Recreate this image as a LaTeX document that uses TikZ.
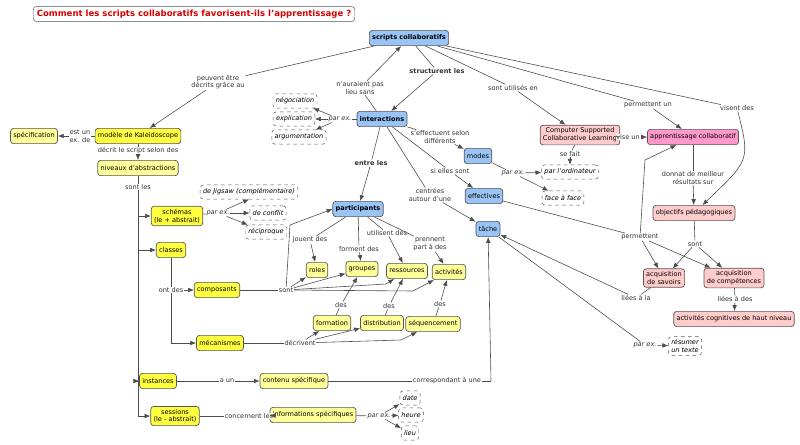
\documentclass[tikz,border=0pt]{standalone}
\usepackage{fontspec}
\setmainfont{DejaVu Sans}
\usetikzlibrary{arrows.meta}
\definecolor{cb}{HTML}{99C4F5}
\definecolor{cy}{HTML}{FFFF40}
\definecolor{cly}{HTML}{FFFF99}
\definecolor{cp}{HTML}{FFCCCC}
\definecolor{cdp}{HTML}{FF99CC}
\definecolor{bd}{HTML}{555555}
\newcommand{\fs}{\fontsize{5.6}{6.6}\selectfont}
\begin{document}
\begin{tikzpicture}[x=0.03cm,y=-0.03cm,
 every node/.style={font=\fs},
 box/.style={draw=bd,rounded corners=2.5pt,line width=0.6pt,inner sep=2.4pt,align=center,minimum height=13pt},
 B/.style={box,fill=cb,font=\fs\bfseries},
 Y/.style={box,fill=cy},
 LY/.style={box,fill=cly},
 P/.style={box,fill=cp},
 DP/.style={box,fill=cdp},
 D/.style={draw=bd,dashed,rounded corners=2.5pt,inner sep=2.4pt,align=center,minimum height=12pt,font=\fs\itshape},
 L/.style={fill=white,inner sep=0.6pt,align=center,text=black!80},
 LI/.style={L,font=\fs\itshape},
 LB/.style={L,font=\fs\bfseries},
 e/.style={draw=black!70,line width=0.5pt},
 a/.style={e,-{Latex[length=5pt,width=4pt]}}]
\useasboundingbox (0,0) rectangle (800,445);
% title
\node[draw=bd,rounded corners=3pt,inner sep=3pt,text=red!85!black,font=\fontsize{7.3}{8.5}\selectfont\bfseries] (title) at (194,14) {Comment les scripts collaboratifs favorisent-ils l'apprentissage ?};
% main nodes
\node[B] (sc) at (409,38) {scripts collaboratifs};
\node[B] (int) at (382,119) {interactions};
\node[B] (par) at (358,209) {participants};
\node[B,font=\fs] (mod) at (478,156) {modes};
\node[B,font=\fs] (eff) at (484,196) {effectives};
\node[B,font=\fs] (tac) at (488,229) {tâche};
\node[P] (cscl) at (580,135) {Computer Supported\\Collaborative Learning};
\node[DP] (app) at (693,137) {apprentissage collaboratif};
\node[P] (obj) at (694,213) {objectifs pédagogiques};
\node[P] (sav) at (664,278) {acquisition\\de savoirs};
\node[P] (comp) at (734,278) {acquisition\\de compétences};
\node[P] (acog) at (734,319) {activités cognitives de haut niveau};
\node[D] (res) at (685,346) {résumer\\un texte};
\node[D] (ordi) at (570,172) {par l'ordinateur};
\node[D] (face) at (563,198) {face à face};
\node[D] (neg) at (295,101) {négociation};
\node[D] (expl) at (294,119) {explication};
\node[D] (arg) at (299,137) {argumentation};
\node[LY] (spec) at (34,136) {spécification};
\node[Y] (kal) at (138,136) {modèle de Kaleidoscope};
\node[LY] (niv) at (138,168) {niveaux d'abstractions};
\node[Y] (sch) at (177,216) {schémas\\(le + abstrait)};
\node[D] (jig) at (249,192) {de Jigsaw (complémentaire)};
\node[D] (conf) at (268,213) {de conflit};
\node[D] (rec) at (266,232) {réciproque};
\node[Y] (cla) at (171,250) {classes};
\node[Y] (compo) at (217,290) {composants};
\node[Y] (mec) at (220,343) {mécanismes};
\node[LY] (rol) at (317,270) {roles};
\node[LY] (grp) at (362,269) {groupes};
\node[LY] (ress) at (407,271) {ressources};
\node[LY] (act) at (449,272) {activités};
\node[LY] (form) at (332,323) {formation};
\node[LY] (dist) at (382,323) {distribution};
\node[LY] (seq) at (433,324) {séquencement};
\node[Y] (ins) at (158,381) {instances};
\node[LY] (cont) at (294,381) {contenu spécifique};
\node[Y] (ses) at (175,416) {sessions\\(le - abstrait)};
\node[LY] (info) at (313,415) {informations spécifiques};
\node[D] (date) at (410,398) {date};
\node[D] (heure) at (411,415) {heure};
\node[D] (lieu) at (410,433) {lieu};
% labels
\node[L] (l1) at (218,82) {peuvent être\\décrits grâce au};
\node[L] (l2) at (80,136) {est un\\ex. de};
\node[L] (l3) at (138,151) {décrit le script selon des};
\node[L] (l4) at (138,187) {sont les};
\node[L] (l5) at (360,88) {n'auraient pas\\lieu sans};
\node[LB] (l6) at (437,71) {structurent les};
\node[LI] (l7) at (340,119) {par ex.};
\node[LB] (l8) at (371,163) {entre les};
\node[L] (l9) at (440,137) {s'effectuent selon\\différents};
\node[L] (l10) at (450,171) {si elles sont};
\node[L] (l11) at (430,195) {centrées\\autour d'une};
\node[L] (l12) at (513,88) {sont utilisés en};
\node[L] (l13) at (648,105) {permettent un};
\node[L] (l14) at (737,108) {visent des};
\node[L] (l15) at (628,137) {vise un};
\node[L] (l16) at (570,154) {se fait};
\node[LI] (l17) at (513,173) {par ex.};
\node[L] (l18) at (693,178) {donnat de meilleur\\résultats sur};
\node[L] (l19) at (640,237) {permettent};
\node[L] (l20) at (695,244) {sont};
\node[L] (l21) at (636,298) {liées à la};
\node[L] (l22) at (735,299) {liées à des};
\node[LI] (l23) at (645,345) {par ex.};
\node[L] (l24) at (310,240) {jouent des};
\node[L] (l25) at (359,249) {forment des};
\node[L] (l26) at (387,233) {utilisent des};
\node[L] (l27) at (430,244) {prennent\\part à des};
\node[L] (l28) at (286,290) {sont};
\node[L] (l29) at (171,290) {ont des};
\node[L] (l30) at (300,343) {décrivent};
\node[L] (l31) at (341,305) {des};
\node[L] (l32) at (389,306) {des};
\node[L] (l33) at (440,304) {des};
\node[L] (l34) at (227,381) {a un};
\node[L] (l35) at (447,381) {correspondant à une};
\node[L] (l36) at (249,416) {concernent les};
\node[LI] (l37) at (379,416) {par ex.};
\node[LI] (l38) at (218,213) {par ex.};
\coordinate (trk) at (138,381);
\coordinate (trk2) at (138,416);
\coordinate (trk1) at (138,216);
\coordinate (trk3) at (138,250);
\coordinate (cl2) at (171,343);
\coordinate (c35) at (491,381);
\coordinate (c19) at (645,160);
\coordinate (c28a) at (290,225);
\coordinate (c28b) at (386,284);
\coordinate (c28c) at (413,291);
\coordinate (c30) at (401,340);
% edges
\draw[e] (sc) -- (l1); \draw[a] (l1) -- (kal);
\draw[e] (kal) -- (l2); \draw[a] (l2) -- (spec);
\draw[e] (kal) -- (l3); \draw[a] (l3) -- (niv);
\draw[e] (niv) -- (l4); \draw[e] (l4) -- (trk2);
\draw[a] (trk1) -- (sch); \draw[a] (trk3) -- (cla);
\draw[a] (trk) -- (ins); \draw[a] (trk2) -- (ses);
\draw[e] (sch) -- (l38); \draw[a] (l38) -- (jig.south); \draw[a] (l38) -- (conf); \draw[a] (l38) -- (rec);
\draw[e] (int) -- (l5); \draw[a] (l5) -- (sc);
\draw[e] (sc) -- (l6); \draw[a] (l6) -- (int);
\draw[e] (int) -- (l7); \draw[a] (l7) -- (neg); \draw[a] (l7) -- (expl); \draw[a] (l7) -- (arg);
\draw[e] (int) -- (l8); \draw[a] (l8) -- (par);
\draw[e] (int) -- (l9); \draw[a] (l9) -- (mod);
\draw[e] (int) -- (l10); \draw[a] (l10) -- (eff);
\draw[e] (int) -- (l11); \draw[a] (l11) -- (tac);
\draw[e] (sc) -- (l12); \draw[a] (l12) -- (cscl);
\draw[e] (sc) -- (l13); \draw[a] (l13) -- (app);
\draw[e] (sc) -- (l14); \draw[a] (l14) .. controls (750,160) .. (obj);
\draw[e] (cscl) -- (l15); \draw[a] (l15) -- (app);
\draw[e] (cscl) -- (l16); \draw[a] (l16) -- (ordi);
\draw[e] (mod) -- (l17); \draw[a] (l17) -- (ordi); \draw[a] (l17) -- (face);
\draw[e] (app) -- (l18); \draw[a] (l18) -- (obj);
\draw[e] (eff) -- (l19); \draw[a] (l19) -- (c19) -- (app); \draw[a] (l19) -- (sav); \draw[a] (l19) -- (comp);
\draw[e] (obj) -- (l20); \draw[a] (l20) -- (sav); \draw[a] (l20) -- (comp);
\draw[e] (sav) -- (l21); \draw[a] (l21) -- (tac);
\draw[e] (comp) -- (l22); \draw[a] (l22) -- (acog);
\draw[e] (tac) -- (l23); \draw[a] (l23) -- (res);
\draw[e] (par) -- (l24); \draw[a] (l24) -- (rol);
\draw[e] (par) -- (l25); \draw[a] (l25) -- (grp);
\draw[e] (par) -- (l26); \draw[a] (l26) -- (ress);
\draw[e] (par) -- (l27); \draw[a] (l27) -- (act);
\draw[e] (compo) -- (l28);
\draw[a] (l28) -- (c28a) -- (par.west);
\draw[a] (l28) -- (rol); \draw[a] (l28) -- (grp);
\draw[a] (l28) -- (c28b) -- (ress); \draw[a] (l28) -- (c28c) -- (act);
\draw[e] (cla) -- (l29); \draw[a] (l29) -- (compo);
\draw[e] (l29) -- (cl2); \draw[a] (cl2) -- (mec);
\draw[e] (mec) -- (l30); \draw[a] (l30) -- (form); \draw[a] (l30) -- (dist); \draw[a] (l30) -- (c30) -- (seq);
\draw[e] (form) -- (l31); \draw[a] (l31) -- (grp);
\draw[e] (dist) -- (l32); \draw[a] (l32) -- (ress);
\draw[e] (seq) -- (l33); \draw[a] (l33) -- (act);
\draw[e] (ins) -- (l34); \draw[a] (l34) -- (cont);
\draw[e] (cont) -- (l35); \draw[e] (l35) -- (c35); \draw[a] (c35) -- (tac);
\draw[e] (ses) -- (l36); \draw[a] (l36) -- (info);
\draw[e] (info) -- (l37); \draw[a] (l37) -- (date); \draw[a] (l37) -- (heure); \draw[a] (l37) -- (lieu);
\end{tikzpicture}
\end{document}
